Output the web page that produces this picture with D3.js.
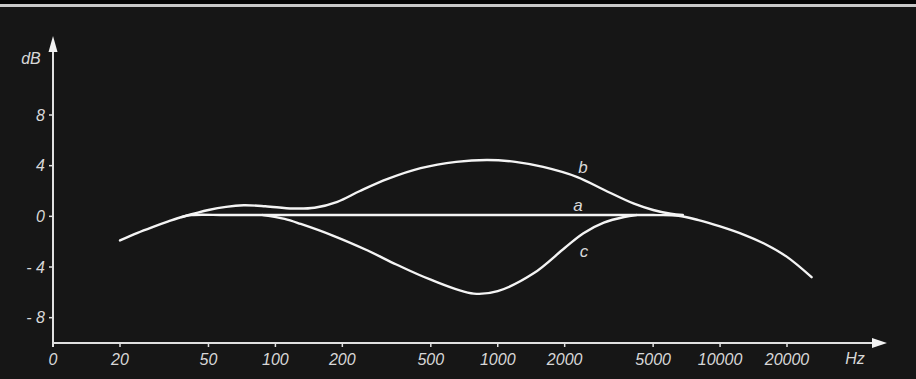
<!DOCTYPE html>
<html lang="en">
<head>
<meta charset="UTF-8" />
<title>Frequency response a, b, c</title>
<script src="https://d3js.org/d3.v7.min.js"></script>
<style>
	html, body { margin: 0; padding: 0; background: #161616; }
	svg { display: block; }
	text { font-family: "Liberation Sans", Arial, sans-serif; font-style: italic; fill: #d8d8d8; }
</style>
</head>
<body>
<svg id="chart" width="916" height="379"></svg>
<script>
// frequencies (Hz) and levels (dB)
const freqA = [20, 24, 28, 33, 38, 42, 60, 100, 300, 1000, 3000, 5000, 6500, 8000, 10000, 13000, 16000, 20000, 25800];
const dbA   = [-1.9, -1.3, -0.85, -0.4, -0.05, 0.1, 0.1, 0.1, 0.1, 0.1, 0.1, 0.1, 0.05, -0.3, -0.8, -1.5, -2.2, -3.2, -4.8];

const freqB = [38, 50, 60, 72, 90, 120, 150, 190, 240, 320, 450, 650, 900, 1200, 1600, 2280, 3000, 4100, 5000, 6000, 6800];
const dbB   = [-0.05, 0.5, 0.75, 0.87, 0.8, 0.62, 0.68, 1.15, 2.0, 2.95, 3.8, 4.3, 4.45, 4.3, 3.9, 3.1, 2.1, 1.0, 0.5, 0.2, 0.1];

const freqC = [88, 110, 130, 180, 260, 350, 500, 780, 1000, 1450, 2000, 2420, 3000, 3700, 4200];
const dbC   = [0.1, -0.2, -0.6, -1.5, -2.7, -3.8, -5.0, -6.1, -5.9, -4.5, -2.5, -1.35, -0.5, -0.05, 0.1];

const xTicks = [20, 50, 100, 200, 500, 1000, 2000, 5000, 10000, 20000];
const yTicks = [8, 4, 0, -4, -8];

const svg = d3.select("#chart");

// scanned edge strip
svg.append("rect").attr("x", 0).attr("y", 0).attr("width", 916).attr("height", 4).attr("fill", "#050505");
svg.append("rect").attr("x", 0).attr("y", 4).attr("width", 916).attr("height", 3).attr("fill", "#c8c8c8");

const x = d3.scaleLog().domain([20, 20000]).range([120, 787]);
const y = d3.scaleLinear().domain([-10, 8]).range([343, 115]);
const x0 = 53;
const yAxisY = y(-10);

// axes
svg.append("line").attr("x1", x0).attr("x2", 874).attr("y1", yAxisY).attr("y2", yAxisY)
	.attr("stroke", "#e0e0e0").attr("stroke-width", 2);
svg.append("path").attr("d", `M872,${yAxisY - 5}L887,${yAxisY}L872,${yAxisY + 5}Z`).attr("fill", "#f2f2f2");

svg.append("line").attr("x1", x0).attr("x2", x0).attr("y1", yAxisY + 4).attr("y2", 50)
	.attr("stroke", "#e0e0e0").attr("stroke-width", 2);
svg.append("path").attr("d", `M${x0 - 4.5},52L${x0},36L${x0 + 4.5},52Z`).attr("fill", "#f2f2f2");

// y ticks
svg.selectAll(".ytick").data(yTicks).enter().append("line")
	.attr("x1", x0 - 4).attr("x2", x0).attr("y1", d => y(d)).attr("y2", d => y(d))
	.attr("stroke", "#e0e0e0").attr("stroke-width", 1.5);
svg.selectAll(".ylab").data(yTicks).enter().append("text")
	.attr("x", 45).attr("y", d => y(d)).attr("dy", "0.36em")
	.attr("text-anchor", "end").attr("font-size", 16)
	.text(d => d < 0 ? "- " + Math.abs(d) : d);

// x ticks
svg.selectAll(".xtick").data(xTicks).enter().append("line")
	.attr("x1", d => x(d)).attr("x2", d => x(d)).attr("y1", yAxisY).attr("y2", yAxisY + 4)
	.attr("stroke", "#e0e0e0").attr("stroke-width", 1.5);
svg.selectAll(".xlab").data(xTicks).enter().append("text")
	.attr("x", d => x(d)).attr("y", 365)
	.attr("text-anchor", "middle").attr("font-size", 16)
	.text(d => d);
svg.append("text").attr("x", x0).attr("y", 365).attr("text-anchor", "middle").attr("font-size", 16).text("0");
svg.append("text").attr("x", 855).attr("y", 364).attr("text-anchor", "middle").attr("font-size", 16).text("Hz");
svg.append("text").attr("x", 31).attr("y", 64).attr("text-anchor", "middle").attr("font-size", 16).text("dB");

// curves
const line = d3.line().x(d => x(d[0])).y(d => y(d[1])).curve(d3.curveCatmullRom.alpha(0.5));
const series = [
	{ name: "a", f: freqA, v: dbA },
	{ name: "b", f: freqB, v: dbB },
	{ name: "c", f: freqC, v: dbC }
];
svg.selectAll(".curve").data(series).enter().append("path")
	.attr("d", s => line(s.f.map((f, i) => [f, s.v[i]])))
	.attr("fill", "none").attr("stroke", "#f4f4f4").attr("stroke-width", 2.4)
	.attr("stroke-linecap", "round");

// curve labels
svg.append("text").attr("x", 583).attr("y", 173).attr("text-anchor", "middle").attr("font-size", 17).text("b");
svg.append("text").attr("x", 578).attr("y", 211).attr("text-anchor", "middle").attr("font-size", 17).text("a");
svg.append("text").attr("x", 584).attr("y", 257).attr("text-anchor", "middle").attr("font-size", 17).text("c");
</script>
</body>
</html>
